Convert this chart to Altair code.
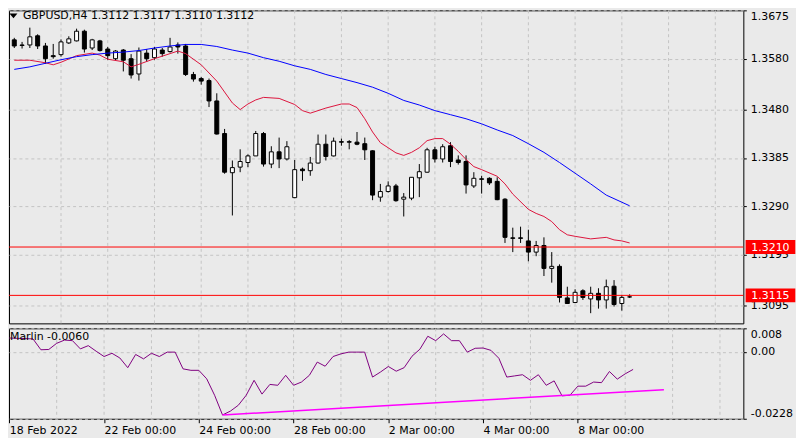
import altair as alt
import pandas as pd

# ---------------- data ----------------
opens = [1.3617, 1.3607, 1.3607, 1.3625, 1.3605, 1.3586, 1.3588, 1.3611, 1.3615, 1.3634,
         1.3601, 1.3615, 1.3599, 1.3580, 1.3597, 1.3580, 1.3550, 1.3591, 1.3582, 1.3597,
         1.3594, 1.3607, 1.3605, 1.3549, 1.3541, 1.3537, 1.3497, 1.3433, 1.3356, 1.3367,
         1.3376, 1.3389, 1.3433, 1.3373, 1.3397, 1.3383, 1.3307, 1.3363, 1.3360, 1.3375,
         1.3412, 1.3389, 1.3417, 1.3417, 1.3416, 1.3413, 1.3399, 1.3308, 1.3319, 1.3330,
         1.3304, 1.3306, 1.3346, 1.3357, 1.3401, 1.3383, 1.3409, 1.3381, 1.3378, 1.3330,
         1.3344, 1.3345, 1.3339, 1.3304, 1.3228, 1.3228, 1.3222, 1.3200, 1.3213, 1.3168,
         1.3172, 1.3110, 1.3101, 1.3124, 1.3108, 1.3119, 1.3106, 1.3133, 1.3099, 1.3112]
highs = [1.3621, 1.3613, 1.3641, 1.3628, 1.3611, 1.3609, 1.3618, 1.3624, 1.3639, 1.3637,
         1.3619, 1.3617, 1.3603, 1.3597, 1.3599, 1.3589, 1.3602, 1.3599, 1.3603, 1.3601,
         1.3621, 1.3612, 1.3609, 1.3554, 1.3544, 1.3541, 1.3512, 1.3442, 1.3380, 1.3402,
         1.3392, 1.3438, 1.3436, 1.3408, 1.3425, 1.3418, 1.3381, 1.3366, 1.3387, 1.3431,
         1.3431, 1.3425, 1.3423, 1.3420, 1.3436, 1.3425, 1.3400, 1.3334, 1.3339, 1.3334,
         1.3316, 1.3347, 1.3373, 1.3405, 1.3407, 1.3412, 1.3416, 1.3390, 1.3390, 1.3357,
         1.3350, 1.3347, 1.3347, 1.3306, 1.3248, 1.3250, 1.3244, 1.3222, 1.3229, 1.3200,
         1.3176, 1.3132, 1.3127, 1.3127, 1.3132, 1.3129, 1.3146, 1.3145, 1.3116, 1.3117]
lows = [1.3601, 1.3600, 1.3601, 1.3599, 1.3570, 1.3580, 1.3584, 1.3609, 1.3614, 1.3592,
        1.3597, 1.3594, 1.3578, 1.3577, 1.3555, 1.3541, 1.3537, 1.3574, 1.3578, 1.3584,
        1.3592, 1.3590, 1.3546, 1.3535, 1.3529, 1.3485, 1.3431, 1.3354, 1.3272, 1.3357,
        1.3367, 1.3389, 1.3368, 1.3365, 1.3365, 1.3380, 1.3306, 1.3340, 1.3350, 1.3374,
        1.3380, 1.3388, 1.3409, 1.3402, 1.3410, 1.3381, 1.3302, 1.3299, 1.3317, 1.3299,
        1.3270, 1.3302, 1.3308, 1.3356, 1.3376, 1.3376, 1.3367, 1.3372, 1.3315, 1.3326,
        1.3315, 1.3332, 1.3302, 1.3218, 1.3200, 1.3218, 1.3182, 1.3192, 1.3153, 1.3140,
        1.3101, 1.3098, 1.3101, 1.3106, 1.3080, 1.3089, 1.3089, 1.3093, 1.3085, 1.3110]
closes = [1.3605, 1.3606, 1.3623, 1.3605, 1.3580, 1.3584, 1.3613, 1.3619, 1.3634, 1.3599,
          1.3617, 1.3596, 1.3586, 1.3595, 1.3577, 1.3548, 1.3595, 1.3580, 1.3599, 1.3590,
          1.3603, 1.3603, 1.3549, 1.3540, 1.3536, 1.3497, 1.3432, 1.3357, 1.3366, 1.3378,
          1.3389, 1.3433, 1.3373, 1.3397, 1.3383, 1.3407, 1.3362, 1.3360, 1.3375, 1.3412,
          1.3388, 1.3418, 1.3416, 1.3416, 1.3412, 1.3401, 1.3312, 1.3319, 1.3330, 1.3301,
          1.3308, 1.3347, 1.3358, 1.3401, 1.3383, 1.3407, 1.3378, 1.3376, 1.3332, 1.3345,
          1.3343, 1.3336, 1.3303, 1.3229, 1.3227, 1.3227, 1.3200, 1.3213, 1.3168, 1.3172,
          1.3111, 1.3099, 1.3121, 1.3111, 1.3119, 1.3106, 1.3132, 1.3097, 1.3111, 1.3112]

blue_idx = [0, 2, 4, 6, 8, 10, 12, 14, 16, 18, 20, 22, 24, 26, 28, 30, 32, 34, 36, 38,
            40, 42, 44, 46, 48, 50, 52, 54, 56, 58, 60, 62, 64, 66, 68, 70, 72, 74, 76, 78, 79]
blue_val = [1.3559, 1.3564, 1.3571, 1.3578, 1.3584, 1.3588, 1.3591, 1.3593, 1.3596, 1.3601,
            1.3605, 1.3608, 1.3608, 1.3604, 1.3597, 1.3591, 1.3582, 1.3575, 1.3566, 1.3559,
            1.3549, 1.3541, 1.3533, 1.3524, 1.3512, 1.3498, 1.3489, 1.3478, 1.3470, 1.3462,
            1.3452, 1.3440, 1.3429, 1.3413, 1.3396, 1.3376, 1.3355, 1.3334, 1.3312, 1.3298, 1.3291]

red_idx = [0, 2, 4, 5, 6, 8, 10, 11, 12, 14, 15, 16, 18, 20, 21, 22, 24, 26, 28, 29,
           30, 31, 32, 34, 36, 37, 38, 40, 42, 43, 44, 45, 46, 47, 48, 49, 50, 51, 52, 53,
           54, 55, 56, 57, 58, 59, 60, 62, 63, 64, 66, 67, 68, 69, 70, 71, 72, 74, 76, 77, 78, 79]
red_val = [1.3577, 1.3577, 1.3572, 1.3568, 1.3573, 1.3586, 1.3591, 1.3587, 1.3579, 1.3574,
           1.3564, 1.3569, 1.3580, 1.3590, 1.3595, 1.3590, 1.3568, 1.3536, 1.3493, 1.3480,
           1.3491, 1.3499, 1.3504, 1.3502, 1.3490, 1.3478, 1.3473, 1.3483, 1.3491, 1.3491,
           1.3484, 1.3462, 1.3436, 1.3415, 1.3405, 1.3395, 1.3390, 1.3396, 1.3405, 1.3419,
           1.3423, 1.3423, 1.3412, 1.3398, 1.3382, 1.3368, 1.3362, 1.3349, 1.3334, 1.3314,
           1.3284, 1.3276, 1.3270, 1.3260, 1.3244, 1.3234, 1.3231, 1.3226, 1.3229, 1.3224,
           1.3222, 1.3218]

marlin = [0.0047, 0.0046, 0.0045, 0.0044, 0.0007, 0.0008, 0.0029, 0.0040, 0.0038, 0.0010,
          0.0021, 0.0002, -0.0016, -0.0005, -0.0021, -0.0054, -0.0009, -0.0024, -0.0005, -0.0016,
          -0.0001, -0.0001, -0.0058, -0.0063, -0.0063, -0.0092, -0.0148, -0.0215, -0.0202, -0.0182,
          -0.0148, -0.0097, -0.0144, -0.0111, -0.0114, -0.0080, -0.0114, -0.0103, -0.0080, -0.0035,
          -0.0049, -0.0016, -0.0007, -0.0001, -0.0001, -0.0001, -0.0086, -0.0069, -0.0050, -0.0066,
          -0.0054, -0.0015, 0.0009, 0.0053, 0.0038, 0.0061, 0.0038, 0.0038, -0.0001, 0.0012,
          0.0013, 0.0005, -0.0022, -0.0086, -0.0082, -0.0078, -0.0097, -0.0078, -0.0114, -0.0099,
          -0.0150, -0.0148, -0.0117, -0.0117, -0.0103, -0.0105, -0.0067, -0.0093, -0.0075, -0.0060]

trend_idx = [27, 82.9]
trend_val = [-0.0215, -0.0129]

levels = [1.3210, 1.3115]
level_labels = ["1.3210", "1.3115"]

price_ticks = [1.3675, 1.3580, 1.3480, 1.3385, 1.3290, 1.3195, 1.3095]
marlin_ticks = [0.008, 0.0, -0.0228]
marlin_tick_labels = ["0.008", "0.00", "-0.0228"]
date_idx = [0, 12, 24, 36, 48, 60, 72]
date_labels = ["18 Feb 2022", "22 Feb 00:00", "24 Feb 00:00", "28 Feb 00:00",
               "2 Mar 00:00", "4 Mar 00:00", "8 Mar 00:00"]
grid_idx = [6, 12, 18, 24, 30, 36, 42, 48, 54, 60, 66, 72, 78, 84, 90]

title_text = "GBPUSD,H4  1.3112 1.3117 1.3110 1.3112"
marlin_text = "Marlin -0.0060"

# ---------------- styling ----------------
FONT = "DejaVu Sans"
BG = "#EAEAEA"
GRID = "#C4C4C4"
W = 739
H1 = 315
H2 = 91

candles = pd.DataFrame({"i": list(range(len(opens))), "open": opens, "high": highs,
                        "low": lows, "close": closes})
blue_df = pd.DataFrame({"i": blue_idx, "v": blue_val})
red_df = pd.DataFrame({"i": red_idx, "v": red_val})
marlin_df = pd.DataFrame({"i": list(range(len(marlin))), "v": marlin})
trend_df = pd.DataFrame({"i": trend_idx, "v": trend_val})
lev_df = pd.DataFrame({"price": levels, "label": level_labels})
grid_df = pd.DataFrame({"i": grid_idx})
title_df = pd.DataFrame({"t": [title_text]})
mtext_df = pd.DataFrame({"t": [marlin_text]})

xs = alt.Scale(domain=[-0.04, 92.96], nice=False, zero=False)
ys = alt.Scale(domain=[1.3060, 1.3675], nice=False, zero=False)
ms = alt.Scale(domain=[-0.0228, 0.008], nice=False, zero=False)

yax = alt.Axis(orient="right", values=price_ticks, format=".4f", title=None,
               tickSize=3, labelPadding=4, grid=True, gridDash=[3, 3], gridColor=GRID,
               domain=False, labelFlush=True)

mexpr = ""
for v, lab in zip(marlin_ticks, marlin_tick_labels):
    mexpr += "abs(datum.value - (%s)) < 0.0005 ? '%s' : " % (v, lab)
mexpr += "''"
max_ = alt.Axis(orient="right", values=marlin_ticks, labelExpr=mexpr, title=None,
                tickSize=3, labelPadding=4, grid=True, gridDash=[3, 3], gridColor=GRID,
                domain=False, labelFlush=True)

date_arr = "[" + ",".join("'%s'" % s for s in date_labels) + "]"
xax = alt.Axis(values=date_idx, labelExpr=date_arr + "[round(datum.value / 12)]",
               labelAlign="left", labelBaseline="top", labelPadding=2, tickSize=4,
               grid=False, domain=False, title=None, labelFlush=False)

X = alt.X("i:Q", scale=xs, axis=None)

vgrid = alt.Chart(grid_df).mark_rule(color=GRID, strokeDash=[3, 3], strokeWidth=1).encode(x=X)

wicks = alt.Chart(candles).mark_rule(color="black", strokeWidth=1, clip=True).encode(
    x=X, y=alt.Y("low:Q", scale=ys, axis=yax), y2="high:Q")

bodies = alt.Chart(candles).mark_bar(width=4, stroke="black", strokeWidth=1, clip=True).encode(
    x=X, y=alt.Y("open:Q", scale=ys, axis=yax), y2="close:Q",
    fill=alt.condition("datum.close > datum.open", alt.value("white"), alt.value("black")))

red_line = alt.Chart(red_df).mark_line(color="#DC143C", strokeWidth=1, clip=True).encode(
    x=X, y=alt.Y("v:Q", scale=ys, axis=yax))
blue_line = alt.Chart(blue_df).mark_line(color="#0000FF", strokeWidth=1, clip=True).encode(
    x=X, y=alt.Y("v:Q", scale=ys, axis=yax))

lev_rules = alt.Chart(lev_df).mark_rule(color="#FF0000", strokeWidth=1).encode(
    y=alt.Y("price:Q", scale=ys, axis=yax))

box_path = "M-1,-0.28L1,-0.28L1,0.28L-1,0.28Z"
lev_boxes = alt.Chart(lev_df).mark_point(shape=box_path, size=2500, filled=True,
                                          color="#FF0000", opacity=1).encode(
    x=alt.value(W + 27.3), y=alt.Y("price:Q", scale=ys, axis=yax))
lev_text = alt.Chart(lev_df).mark_text(color="white", font=FONT, fontSize=11, align="center",
                                        baseline="middle", dy=1).encode(
    x=alt.value(W + 27.3), y=alt.Y("price:Q", scale=ys, axis=yax), text="label:N")

tri = alt.Chart(title_df).mark_point(shape="M-1,-0.6L1,-0.6L0,0.6Z", size=64, filled=True,
                                     color="black", opacity=1).encode(
    x=alt.value(4.5), y=alt.value(5.6))
title = alt.Chart(title_df).mark_text(font=FONT, fontSize=11, align="left", baseline="middle",
                                      color="black").encode(
    x=alt.value(14), y=alt.value(6), text="t:N")

main = alt.layer(vgrid, wicks, bodies, red_line, blue_line, lev_rules, lev_boxes, lev_text,
                 tri, title).properties(width=W, height=H1)

XB = alt.X("i:Q", scale=xs, axis=xax)
vgrid2 = alt.Chart(grid_df).mark_rule(color=GRID, strokeDash=[3, 3], strokeWidth=1).encode(x=XB)
mline = alt.Chart(marlin_df).mark_line(color="#800080", strokeWidth=1, clip=True).encode(
    x=XB, y=alt.Y("v:Q", scale=ms, axis=max_))
tline = alt.Chart(trend_df).mark_line(color="#FF00FF", strokeWidth=1.5, clip=True).encode(
    x=XB, y=alt.Y("v:Q", scale=ms, axis=max_))
mlabel = alt.Chart(mtext_df).mark_text(font=FONT, fontSize=11, align="left", baseline="middle",
                                       color="black").encode(
    x=alt.value(1), y=alt.value(9), text="t:N")

ind = alt.layer(vgrid2, mline, tline, mlabel).properties(width=W, height=H2)

chart = alt.vconcat(main, ind, spacing=3).properties(
    padding={"left": 0, "top": 0, "right": 0, "bottom": 0},
).configure(background=BG).configure_view(stroke="black", strokeWidth=1).configure_axis(
    labelFont=FONT, labelFontSize=11, labelColor="black", tickColor="black")

chart.save("out.html", embed_options={"renderer": "svg", "actions": False})
